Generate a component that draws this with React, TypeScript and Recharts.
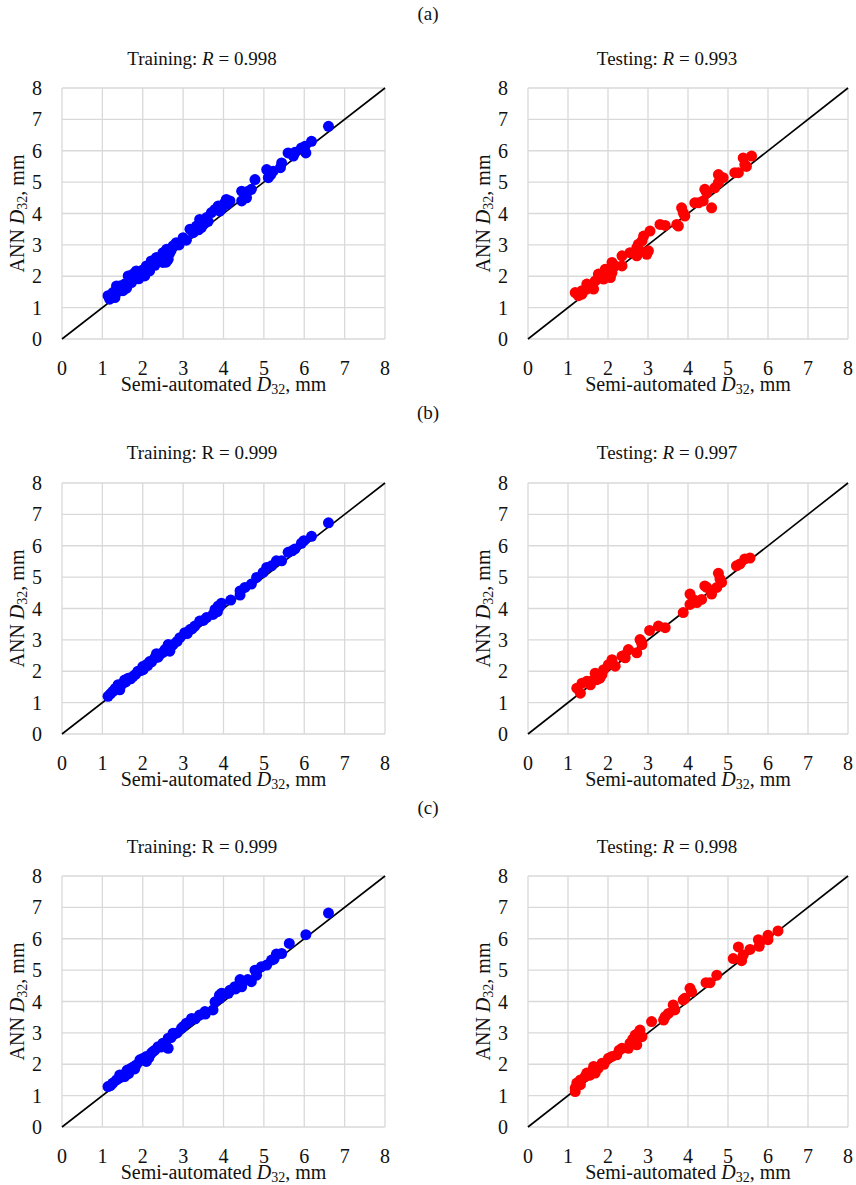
import React from "react";
import {
  ScatterChart,
  Scatter,
  XAxis,
  YAxis,
  CartesianGrid,
  ReferenceLine,
} from "recharts";

const FONT = "Liberation Serif";

const axisTicks = [0, 1, 2, 3, 4, 5, 6, 7, 8];

// (a) training / testing
const trainA: [number, number][] = [
  [6.6, 6.78], [6.18, 6.3], [6.02, 6.14], [5.93, 6.09], [6.04, 5.93], [5.6, 5.93],
  [5.73, 5.83], [5.77, 5.95], [5.44, 5.61], [5.41, 5.46], [5.07, 5.4], [5.11, 5.14],
  [5.23, 5.35], [5.17, 5.24], [4.78, 5.08], [4.69, 4.77], [4.61, 4.71], [4.45, 4.71],
  [4.45, 4.4], [4.57, 4.5], [4.16, 4.4], [4.07, 4.45], [4.03, 4.34], [3.91, 4.08],
  [3.87, 4.24], [3.79, 4.13], [3.7, 4.03], [3.58, 3.87], [3.41, 3.81], [3.33, 3.6],
  [3.5, 3.65], [3.17, 3.5], [3.25, 3.39], [3.0, 3.23], [3.08, 3.15], [2.83, 3.07],
  [2.75, 2.97], [2.59, 2.86], [2.5, 2.75], [2.63, 2.54], [2.5, 2.44], [2.66, 2.72],
  [2.34, 2.6], [2.21, 2.49], [2.09, 2.33], [2.17, 2.17], [2.05, 2.01], [2.27, 2.38],
  [1.84, 2.17], [1.76, 2.07], [1.64, 2.01], [1.72, 1.8], [1.55, 1.75], [1.43, 1.69],
  [1.35, 1.69], [1.51, 1.54], [1.26, 1.48], [1.14, 1.38], [1.18, 1.27], [1.31, 1.32],
  [1.95, 2.05], [1.6, 1.62], [1.9, 1.92], [2.4, 2.5], [2.9, 3.0], [3.45, 3.55],
  [1.68, 1.88], [1.82, 1.95], [2.0, 2.2], [2.12, 2.25], [2.3, 2.35], [2.45, 2.62],
  [2.55, 2.65], [2.7, 2.82], [3.38, 3.48], [3.62, 3.75], [3.95, 4.15], [4.1, 4.3],
  [1.45, 1.58], [1.38, 1.5], [2.58, 2.45], [3.55, 3.7],
];
const testA: [number, number][] = [
  [5.59, 5.83], [5.38, 5.77], [5.42, 5.56], [5.46, 5.5], [5.26, 5.3], [5.17, 5.3],
  [4.76, 5.24], [4.88, 5.14], [4.76, 4.98], [4.67, 4.82], [4.42, 4.77], [4.47, 4.66],
  [4.38, 4.4], [4.17, 4.34], [4.26, 4.34], [4.59, 4.18], [3.84, 4.18], [3.88, 4.03],
  [3.92, 3.92], [3.72, 3.65], [3.76, 3.6], [3.3, 3.65], [3.43, 3.62], [3.05, 3.44],
  [2.89, 3.28], [2.85, 3.13], [2.76, 3.02], [2.72, 2.91], [3.01, 2.81], [2.97, 2.7],
  [2.8, 2.81], [2.55, 2.75], [2.72, 2.65], [2.35, 2.65], [2.35, 2.33], [2.1, 2.44],
  [2.18, 2.33], [2.1, 2.12], [2.06, 1.96], [1.93, 2.22], [1.76, 2.07], [1.89, 1.91],
  [1.68, 1.85], [1.6, 1.69], [1.64, 1.59], [1.47, 1.75], [1.47, 1.59], [1.35, 1.54],
  [1.18, 1.48], [1.26, 1.38], [1.35, 1.43], [1.8, 1.95], [2.0, 2.05],
];

// (b) training / testing
const trainB: [number, number][] = [
  [6.6, 6.73], [6.18, 6.3], [5.99, 6.16], [5.93, 6.08], [5.77, 5.9], [5.6, 5.79],
  [5.7, 5.84], [5.44, 5.52], [5.31, 5.52], [5.19, 5.36], [5.07, 5.31], [4.98, 5.15],
  [4.82, 4.99], [4.69, 4.78], [4.53, 4.67], [4.41, 4.56], [4.41, 4.43], [4.18, 4.27],
  [3.95, 4.17], [3.87, 4.08], [3.79, 3.97], [3.74, 3.81], [3.58, 3.71], [3.41, 3.6],
  [3.29, 3.44], [3.17, 3.33], [3.04, 3.23], [2.92, 3.07], [2.75, 2.85], [2.63, 2.85],
  [2.55, 2.69], [2.42, 2.53], [2.3, 2.43], [2.09, 2.21], [2.01, 2.05], [1.88, 2.0],
  [1.76, 1.84], [1.64, 1.78], [1.51, 1.62], [1.39, 1.57], [1.43, 1.41], [1.26, 1.36],
  [1.14, 1.2], [2.17, 2.31], [2.34, 2.56], [2.67, 2.64], [1.2, 1.28], [1.32, 1.45],
  [1.58, 1.66], [1.7, 1.76], [1.82, 1.9], [1.95, 2.02], [2.22, 2.3], [2.5, 2.6],
  [2.85, 2.95], [3.1, 3.2], [3.5, 3.62], [3.85, 3.9], [3.9, 4.05], [2.0, 2.15],
  [1.45, 1.52], [1.55, 1.72], [2.12, 2.18], [2.38, 2.45], [2.7, 2.78], [3.22, 3.35],
];
const testB: [number, number][] = [
  [5.55, 5.61], [5.42, 5.58], [5.3, 5.42], [5.21, 5.36], [4.76, 5.12], [4.8, 4.94],
  [4.84, 4.83], [4.72, 4.67], [4.42, 4.72], [4.47, 4.67], [4.59, 4.46], [4.05, 4.46],
  [4.13, 4.29], [4.22, 4.19], [4.05, 4.13], [4.34, 4.29], [3.88, 3.87], [3.43, 3.39],
  [3.26, 3.44], [3.04, 3.3], [2.8, 3.01], [2.85, 2.85], [2.72, 2.59], [2.51, 2.69],
  [2.35, 2.48], [2.43, 2.43], [2.1, 2.37], [2.18, 2.16], [2.01, 2.21], [1.89, 2.05],
  [1.8, 1.78], [1.68, 1.94], [1.72, 1.73], [1.56, 1.57], [1.47, 1.68], [1.35, 1.62],
  [1.22, 1.46], [1.31, 1.3], [1.6, 1.7], [1.85, 1.9], [2.4, 2.5], [2.83, 2.95],
];

// (c) training / testing
const trainC: [number, number][] = [
  [6.6, 6.82], [6.04, 6.13], [5.63, 5.85], [5.44, 5.53], [5.31, 5.51], [5.19, 5.32],
  [5.07, 5.16], [4.94, 5.11], [4.78, 5.0], [4.82, 4.84], [4.69, 4.63], [4.41, 4.7],
  [4.45, 4.47], [4.28, 4.47], [4.16, 4.36], [4.12, 4.26], [3.95, 4.26], [3.91, 4.1],
  [3.79, 3.99], [3.74, 3.73], [3.54, 3.68], [3.41, 3.57], [3.21, 3.46], [3.08, 3.31],
  [2.96, 3.15], [2.75, 2.99], [2.63, 2.83], [2.63, 2.51], [2.5, 2.67], [2.38, 2.56],
  [2.21, 2.35], [2.09, 2.25], [2.09, 2.09], [1.93, 2.14], [1.84, 1.98], [1.72, 1.88],
  [1.6, 1.77], [1.55, 1.61], [1.43, 1.66], [1.35, 1.5], [1.26, 1.4], [1.14, 1.29],
  [2.3, 2.45], [3.0, 3.2], [4.3, 4.4], [2.0, 2.18], [1.5, 1.6], [1.65, 1.7],
  [1.8, 1.85], [2.15, 2.2], [2.7, 2.85], [2.85, 3.0], [3.3, 3.45], [3.9, 4.2],
  [4.6, 4.7], [5.25, 5.35], [1.2, 1.32], [2.45, 2.55], [3.55, 3.6], [4.0, 4.25],
  [1.4, 1.55], [1.62, 1.82], [1.78, 1.92], [2.25, 2.4], [2.55, 2.6], [3.15, 3.35],
];
const testC: [number, number][] = [
  [6.25, 6.25], [6.0, 6.11], [6.0, 5.97], [5.8, 5.9], [5.76, 5.97], [5.78, 5.76],
  [5.55, 5.66], [5.38, 5.48], [5.26, 5.74], [5.34, 5.3], [5.13, 5.37], [4.72, 4.84],
  [4.55, 4.6], [4.45, 4.6], [4.05, 4.42], [4.09, 4.31], [3.92, 4.1], [3.88, 4.05],
  [3.63, 3.89], [3.67, 3.73], [3.51, 3.62], [3.43, 3.52], [3.39, 3.41], [3.09, 3.36],
  [2.8, 3.09], [2.85, 2.88], [2.68, 2.93], [2.72, 2.62], [2.55, 2.67], [2.51, 2.51],
  [2.35, 2.51], [2.22, 2.3], [2.1, 2.25], [2.01, 2.19], [1.85, 2.03], [1.76, 1.88],
  [1.64, 1.93], [1.68, 1.72], [1.47, 1.72], [1.43, 1.61], [1.31, 1.5], [1.22, 1.4],
  [1.18, 1.24], [1.18, 1.13], [1.31, 1.35], [1.55, 1.65], [1.9, 2.0], [2.75, 2.98],
  [1.6, 1.78], [1.72, 1.9], [2.28, 2.45], [2.62, 2.8],
];

const toPoints = (arr: [number, number][]) => arr.map(([x, y]) => ({ x, y }));

const XTitle = (props: any) => {
  const vb = props.viewBox || {};
  return (
    <text
      x={vb.x + vb.width / 2}
      y={vb.y + 52}
      textAnchor="middle"
      fontFamily={FONT}
      fontSize={20}
      fill="#111"
    >
      Semi-automated <tspan fontStyle="italic">D</tspan>
      <tspan fontSize={14} dy={3}>32</tspan>
      <tspan dy={-3}>, mm</tspan>
    </text>
  );
};

const YTitle = (props: any) => {
  const vb = props.viewBox || {};
  const cx = vb.x + 24;
  const cy = vb.y + vb.height / 2;
  return (
    <text
      x={cx}
      y={cy}
      transform={`rotate(-90, ${cx}, ${cy})`}
      textAnchor="middle"
      fontFamily={FONT}
      fontSize={20}
      fill="#111"
    >
      ANN <tspan fontStyle="italic">D</tspan>
      <tspan fontSize={14} dy={3}>32</tspan>
      <tspan dy={-3}>, mm</tspan>
    </text>
  );
};

const Dot = (color: string) => (props: any) =>
  <circle cx={props.cx} cy={props.cy} r={5.5} fill={color} />;

// custom tick so the serif family is set directly on the text element
const Tick = (axis: "x" | "y") => (props: any) => {
  const { x, y, payload } = props;
  return axis === "x" ? (
    <text x={x} y={y + 34} textAnchor="middle" fontFamily={FONT} fontSize={20} fill="#111">
      {payload.value}
    </text>
  ) : (
    <text x={x - 18} y={y + 7} textAnchor="end" fontFamily={FONT} fontSize={20} fill="#111">
      {payload.value}
    </text>
  );
};

function Panel({
  data,
  color,
  left,
  top,
  plotWidth,
}: {
  data: [number, number][];
  color: string;
  left: number;
  top: number;
  plotWidth: number;
}) {
  const plotHeight = 251;
  const width = 62 + plotWidth + 12;
  const height = 10 + plotHeight + 60;
  return (
    <div style={{ position: "absolute", left, top: top - 10 }}>
      <ScatterChart
        width={width}
        height={height}
        margin={{ top: 10, right: 12, bottom: 0, left: 0 }}
      >
        <CartesianGrid stroke="#d9d9d9" strokeWidth={1.3} />
        <XAxis
          type="number"
          dataKey="x"
          domain={[0, 8]}
          ticks={axisTicks}
          interval={0}
          axisLine={false}
          tickLine={false}
          tickSize={0}
          height={60}
          tick={Tick("x")}
          label={{ content: XTitle }}
        />
        <YAxis
          type="number"
          dataKey="y"
          domain={[0, 8]}
          ticks={axisTicks}
          interval={0}
          axisLine={false}
          tickLine={false}
          tickSize={0}
          width={62}
          tick={Tick("y")}
          label={{ content: YTitle }}
        />
        <ReferenceLine
          segment={[
            { x: 0, y: 0 },
            { x: 8, y: 8 },
          ]}
          stroke="#000"
          strokeWidth={1.6}
          ifOverflow="visible"
        />
        <Scatter
          data={toPoints(data)}
          fill={color}
          shape={Dot(color)}
          isAnimationActive={false}
        />
      </ScatterChart>
    </div>
  );
}

const textStyle: React.CSSProperties = {
  position: "absolute",
  fontFamily: FONT,
  fontSize: 19,
  color: "#111",
  textAlign: "center",
  width: 300,
  lineHeight: "22px",
  whiteSpace: "nowrap",
};

function Caption({ cx, cy, children }: { cx: number; cy: number; children: React.ReactNode }) {
  return <div style={{ ...textStyle, left: cx - 150, top: cy - 11 }}>{children}</div>;
}

const rows = [
  { tag: "(a)", tagY: 14, titleY: 59, top: 88, train: trainA, test: testA, trainR: "0.998", testR: "0.993", italicTrain: true },
  { tag: "(b)", tagY: 413, titleY: 453, top: 483, train: trainB, test: testB, trainR: "0.999", testR: "0.997", italicTrain: false },
  { tag: "(c)", tagY: 808, titleY: 847, top: 876, train: trainC, test: testC, trainR: "0.999", testR: "0.998", italicTrain: false },
];

export default function App() {
  return (
    <div
      style={{
        position: "absolute",
        left: 0,
        top: 0,
        width: 856,
        height: 1185,
        background: "#fff",
        overflow: "hidden",
        fontFamily: FONT,
      }}
    >
      {rows.map((row) => (
        <React.Fragment key={row.tag}>
          <Caption cx={428} cy={row.tagY}>{row.tag}</Caption>
          <Caption cx={202} cy={row.titleY}>
            Training: {row.italicTrain ? <i>R</i> : "R"} = {row.trainR}
          </Caption>
          <Caption cx={667} cy={row.titleY}>
            Testing: <i>R</i> = {row.testR}
          </Caption>
          <Panel data={row.train} color="#0000ff" left={0} top={row.top} plotWidth={323} />
          <Panel data={row.test} color="#ff0000" left={466} top={row.top} plotWidth={320} />
        </React.Fragment>
      ))}
    </div>
  );
}
